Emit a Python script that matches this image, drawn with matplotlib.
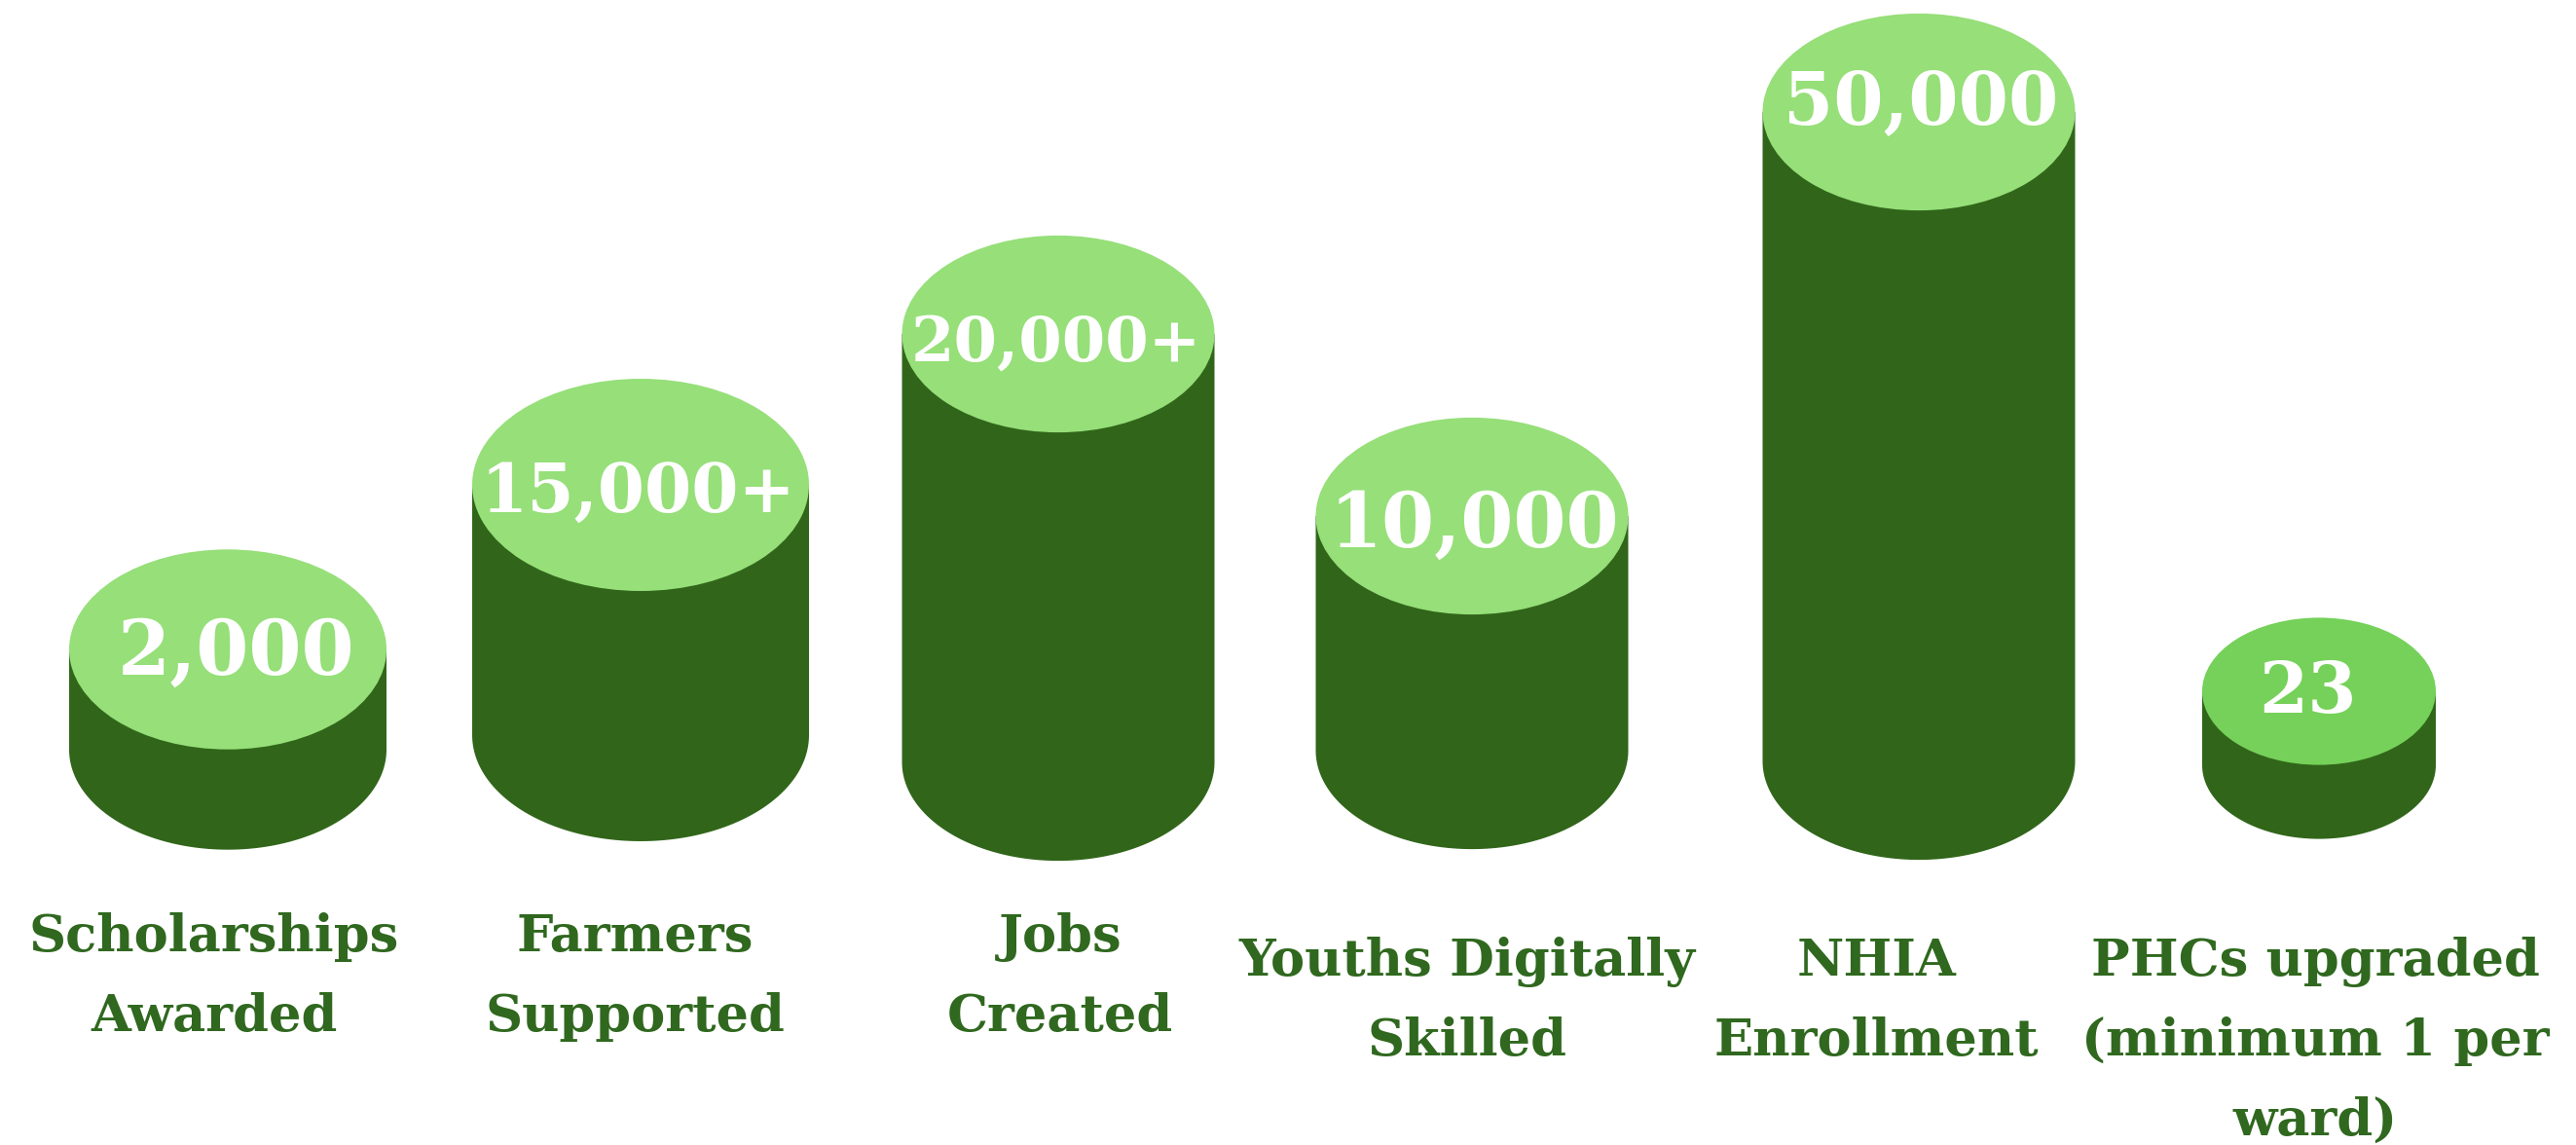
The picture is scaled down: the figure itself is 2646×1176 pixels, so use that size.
import numpy as np
import matplotlib.pyplot as plt
from matplotlib.patches import Ellipse, Polygon

# labels under each cylinder
categories = ['Scholarships\nAwarded', 'Farmers\nSupported', 'Jobs\nCreated',
              'Youths Digitally\nSkilled', 'NHIA\nEnrollment',
              'PHCs upgraded\n(minimum 1 per\nward)']
value_text = ['2,000', '15,000+', '20,000+', '10,000', '50,000', '23']
# visual cylinder heights (px, top centre to base centre)
bar_heights = [103, 257, 440, 241, 667, 76]

# layout (figure pixels, y down)
W, H = 2646, 1176
cx = [234, 658, 1087, 1512, 1971, 2382]
widths = [326, 346, 321, 321, 321, 240]
base_y = [770, 755, 783, 771, 782, 786]
value_x = [243, 655, 1085, 1514, 1973, 2370]
value_base = [693, 527, 371, 562, 128, 732]
value_size = [56, 50, 46, 56, 53, 52]
label_x = [220, 652, 1089, 1507, 1927, 2378]
label_base = [977, 977, 977, 1002, 1002, 1002]
line_gap = 82

dark = '#31661a'
light = ['#96df79'] * 5 + ['#75d159']
label_col = '#2f681e'

fig = plt.figure(figsize=(W / 100, H / 100), dpi=100)
ax = fig.add_axes([0, 0, 1, 1])
ax.set_xlim(0, W)
ax.set_ylim(H, 0)
ax.axis('off')

t = np.linspace(0, np.pi, 120)
for i in range(len(categories)):
    w = widths[i]
    eh = w * 0.63
    top = base_y[i] - bar_heights[i]
    # body outline: left edge down, lower half of base ellipse, right edge up
    arc_x = cx[i] - (w / 2) * np.cos(t)
    arc_y = base_y[i] + (eh / 2) * np.sin(t)
    xs = np.concatenate([[cx[i] - w / 2], arc_x, [cx[i] + w / 2]])
    ys = np.concatenate([[top], arc_y, [top]])
    ax.add_patch(Polygon(np.column_stack([xs, ys]), closed=True, color=dark, lw=0))
    ax.add_patch(Ellipse((cx[i], top), w, eh, color=light[i], lw=0))

    ax.text(value_x[i], value_base[i], value_text[i], ha='center', va='baseline',
            fontsize=value_size[i], fontweight='bold', color='white',
            family='DejaVu Serif')

    for j, line in enumerate(categories[i].split('\n')):
        ax.text(label_x[i], label_base[i] + j * line_gap, line, ha='center',
                va='baseline', fontsize=38, fontweight='bold', color=label_col,
                family='DejaVu Serif')

fig.savefig('out.png', dpi=100)
